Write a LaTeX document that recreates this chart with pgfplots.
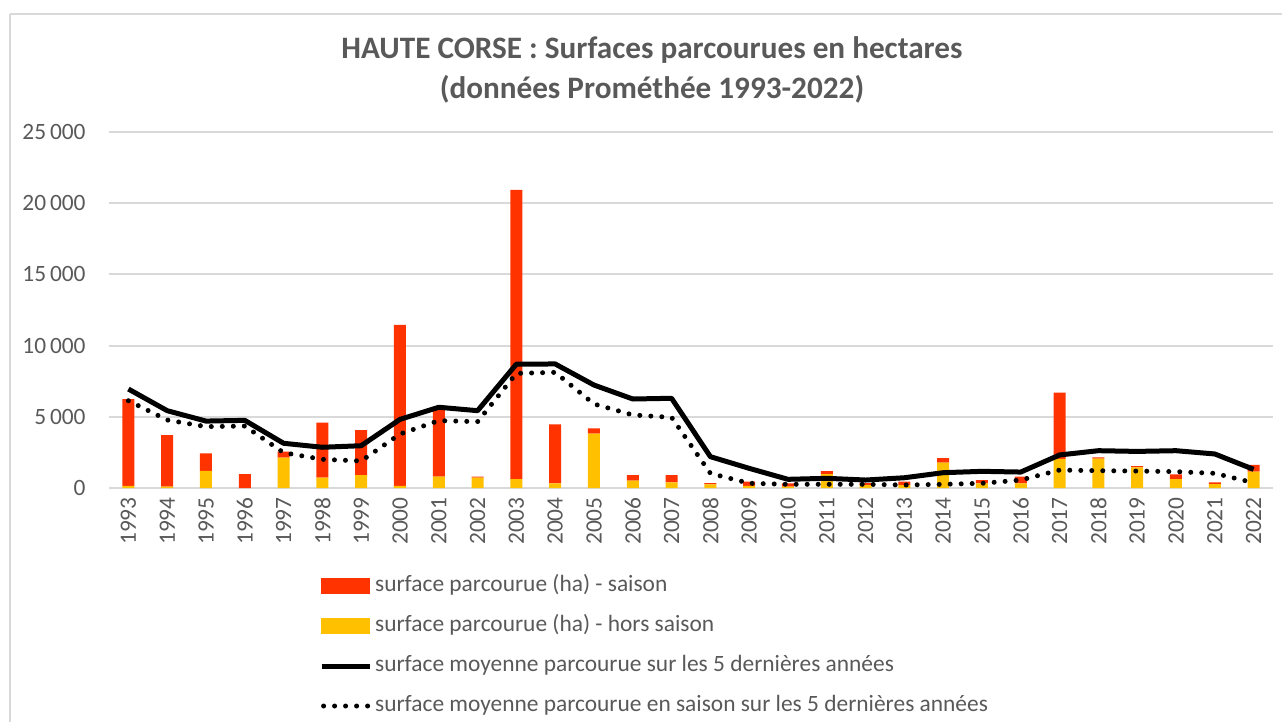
\documentclass[border=0pt]{standalone}
\usepackage{fontspec}
\setmainfont{Carlito}
\usepackage{pgfplots}
\pgfplotsset{compat=1.18}
\usepackage{pgfplotstable}
\definecolor{cred}{HTML}{FF3300}
\definecolor{cyel}{HTML}{FFC000}
\definecolor{ctext}{HTML}{595959}
\definecolor{cgrid}{HTML}{D9D9D9}
\pgfplotstableread{
x hors saison avg avgs
0 150 6100 6950 6130
1 100 3620 5430 4775
2 1200 1240 4700 4310
3 0 980 4750 4350
4 2130 420 3140 2480
5 720 3870 2860 2010
6 910 3160 2970 1900
7 150 11300 4820 3790
8 800 4680 5670 4730
9 720 80 5430 4660
10 630 20300 8700 8050
11 330 4140 8710 8120
12 3810 380 7230 5900
13 510 400 6250 5130
14 400 510 6300 4960
15 260 90 2200 1030
16 150 300 1380 330
17 100 230 610 260
18 980 210 680 260
19 200 150 560 260
20 200 250 720 210
21 1780 310 1075 260
22 330 230 1170 330
23 330 470 1120 560
24 2040 4650 2320 1260
25 2060 90 2620 1215
26 1450 95 2570 1190
27 630 330 2620 1150
28 280 120 2390 1030
29 1150 470 1310 370
}\datatable
\pgfplotsset{
  common/.style={
    at={(54.5pt,-244pt)}, anchor=south west,
    scale only axis, width=582pt, height=178pt,
    xmin=-0.5, xmax=29.5, ymin=0, ymax=25000,
    axis line style={draw=none},
    major tick length=0pt,
    scaled y ticks=false,
  }
}
\begin{document}
\begin{tikzpicture}
\useasboundingbox (0,0) rectangle (641pt,-361pt);
\draw[cgrid, line width=1pt] (5pt,-7pt) -- (641pt,-7pt);
\draw[cgrid, line width=1pt] (5pt,-7pt) -- (5pt,-361pt);
\begin{axis}[
  common,
  ybar stacked, bar width=6pt,
  ymajorgrids, grid style={cgrid, line width=1pt},
  ytick={0,5000,10000,15000,20000,25000},
  yticklabels={0,{5\,000},{10\,000},{15\,000},{20\,000},{25\,000}},
  xtick={0,...,29},
  xticklabels={1993,1994,1995,1996,1997,1998,1999,2000,2001,2002,2003,2004,2005,2006,2007,2008,2009,2010,2011,2012,2013,2014,2015,2016,2017,2018,2019,2020,2021,2022},
  tick label style={font=\fontsize{11.7}{13}\selectfont, text=ctext},
  xticklabel style={rotate=90, anchor=east, inner sep=0pt},
  xticklabel shift=4.5pt,
  yticklabel style={anchor=east, inner sep=0pt},
  yticklabel shift=11.5pt,
  title={HAUTE CORSE : Surfaces parcourues en hectares\\(données Prométhée 1993-2022)},
  title style={at={(0.4665,1)}, anchor=south, yshift=5pt, align=center,
    font=\fontsize{15.6}{20}\selectfont\bfseries, text=ctext},
]
\addplot[fill=cyel, draw=none] table[x=x, y=hors] {\datatable};
\addplot[fill=cred, draw=none] table[x=x, y=saison] {\datatable};
\end{axis}
\begin{axis}[
  common,
  xtick=\empty, ytick=\empty,
  legend cell align=left,
  legend style={at={(0.175,-0.225)}, anchor=north west, draw=none, fill=none,
    font=\fontsize{11.7}{13}\selectfont, text=ctext, row sep=6.5pt,
    nodes={inner sep=1.5pt, text height=8pt, text depth=2.5pt}},
]
\addplot[black, line width=2.5pt, line join=round, forget plot] table[x=x, y=avg] {\datatable};
\addplot[black, line width=2.5pt, line cap=round, dash pattern=on 0pt off 5.5pt, forget plot] table[x=x, y=avgs] {\datatable};
\addlegendimage{legend image code/.code={\fill[cred] (0pt,-3.75pt) rectangle (24pt,3.75pt);}}
\addlegendentry{surface parcourue (ha) - saison}
\addlegendimage{legend image code/.code={\fill[cyel] (0pt,-3.75pt) rectangle (24pt,3.75pt);}}
\addlegendentry{surface parcourue (ha) - hors saison}
\addlegendimage{legend image code/.code={\draw[black, line width=2.5pt] (0pt,0pt) -- (24pt,0pt);}}
\addlegendentry{surface moyenne parcourue sur les 5 dernières années}
\addlegendimage{legend image code/.code={\draw[black, line width=2.5pt, line cap=round, dash pattern=on 0pt off 5.5pt] (1pt,0pt) -- (24pt,0pt);}}
\addlegendentry{surface moyenne parcourue en saison sur les 5 dernières années}
\end{axis}
\end{tikzpicture}
\end{document}
